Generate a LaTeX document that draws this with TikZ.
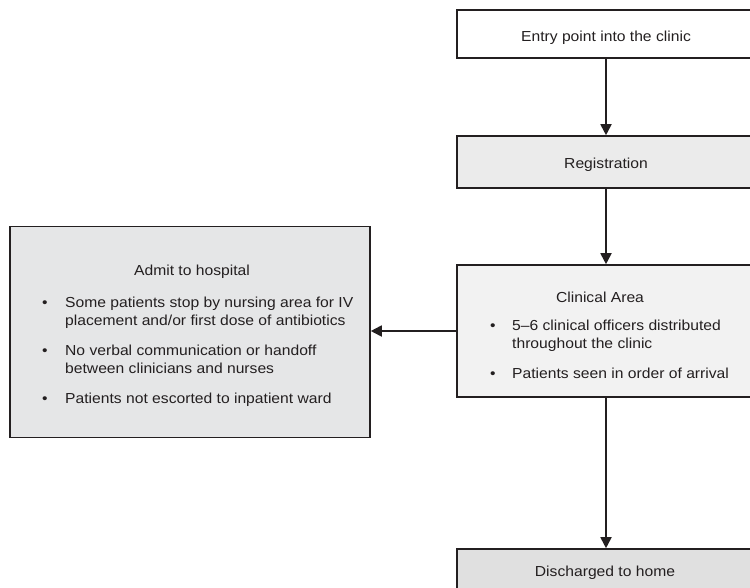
\documentclass[tikz,border=0pt]{standalone}
\usepackage{fontspec}
\setmainfont{Liberation Sans}[FakeStretch=1.08]
\usetikzlibrary{arrows.meta}
\definecolor{edgecol}{HTML}{231F20}
\definecolor{regfill}{HTML}{EBEBEB}
\definecolor{clinfill}{HTML}{F2F2F2}
\definecolor{admfill}{HTML}{E5E6E7}
\definecolor{disfill}{HTML}{E0E0E0}
\newcommand{\bl}{\textbullet}
\begin{document}
\begin{tikzpicture}[x=1pt,y=-1pt,
  box/.style={draw=edgecol, line width=1.6pt, inner sep=0pt},
  txt/.style={font=\fontsize{14.5}{18}\selectfont, inner sep=0pt, text=edgecol},
  flow/.style={draw=edgecol, line width=1.8pt, -{Triangle[length=11pt,width=11pt]}}]
\useasboundingbox (0,0) rectangle (750,587);
\clip (0,0) rectangle (750,587);
\fill[white] (0,0) rectangle (750,587);
% boxes
\node[box, fill=white, minimum width=298pt, minimum height=48pt] (entry) at (606,34) {};
\node[box, fill=regfill, minimum width=298pt, minimum height=52pt] (reg) at (606,162) {};
\node[box, fill=clinfill, minimum width=298pt, minimum height=132pt] (clin) at (606,331) {};
\node[box, fill=disfill, minimum width=298pt, minimum height=52pt] (dis) at (606,575) {};
\node[box, fill=admfill, minimum width=360pt, minimum height=211pt] (admit) at (190,332) {};
% texts
\node[txt, anchor=base] (entrytxt) at (606,41) {Entry point into the clinic};
\node[txt, anchor=base] (regtxt) at (606,168) {Registration};
\node[txt, anchor=base] (clintitle) at (600,302) {Clinical Area};
\node[txt, anchor=base west] (clinlist) at (490,330.5) {\renewcommand{\arraystretch}{1}%
  \begin{tabular}[t]{@{}p{22pt}@{}l@{}}
  \bl & 5--6 clinical officers distributed\\
      & throughout the clinic\\[12pt]
  \bl & Patients seen in order of arrival
  \end{tabular}};
\node[txt, anchor=base] (distxt) at (605,576) {Discharged to home};
\node[txt, anchor=base] (admittitle) at (192,275) {Admit to hospital};
\node[txt, anchor=base west] (admitlist) at (42,307) {\renewcommand{\arraystretch}{1}%
  \begin{tabular}[t]{@{}p{23pt}@{}l@{}}
  \bl & Some patients stop by nursing area for IV\\
      & placement and/or first dose of antibiotics\\[12pt]
  \bl & No verbal communication or handoff\\
      & between clinicians and nurses\\[12pt]
  \bl & Patients not escorted to inpatient ward
  \end{tabular}};
% connectors
\draw[flow] (entry) -- (reg);
\draw[flow] (reg) -- (clin);
\draw[flow] (clin) -- (dis);
\draw[flow] (clin.west) -- (clin.west -| admit.east);
\end{tikzpicture}
\end{document}
